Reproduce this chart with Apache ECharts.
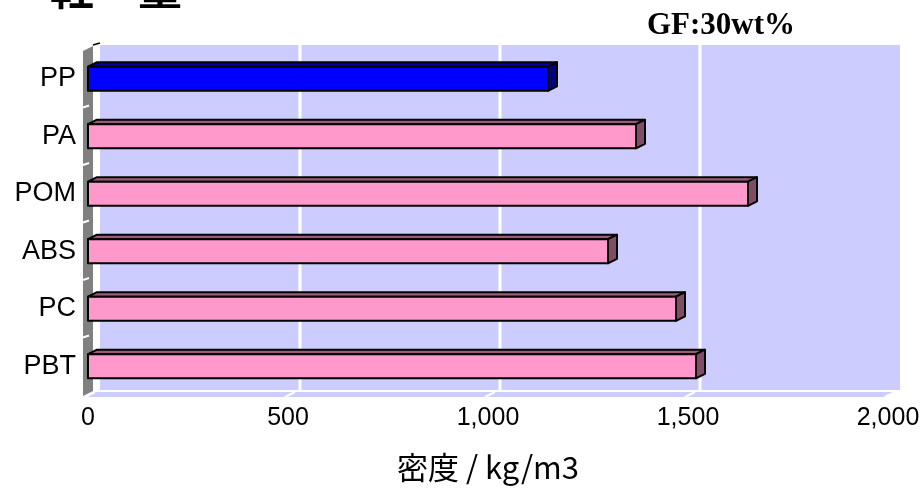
<!DOCTYPE html>
<html>
<head>
<meta charset="utf-8">
<title>密度</title>
<script src="https://cdn.jsdelivr.net/npm/echarts@6/dist/echarts.min.js"></script>
<style>
  html, body { margin: 0; padding: 0; background: #ffffff; }
  #chart { width: 922px; height: 498px; }
</style>
</head>
<body>
<div id="chart"></div>
<script>
// Resin names (top to bottom) and their densities in kg/m3, glass-fibre 30 wt% grades
const categories = ['PP', 'PA', 'POM', 'ABS', 'PC', 'PBT'];
const densities = [1150, 1370, 1650, 1300, 1470, 1520];
// Value axis ticks
const tickValues = [0, 500, 1000, 1500, 2000];
const highlighted = 'PP';

const axisMin = tickValues[0];
const axisMax = tickValues[tickValues.length - 1];
const axisStep = tickValues[1] - tickValues[0];

// Oblique depth offsets for the pseudo-3D look
const WALL_DX = 12, WALL_DY = -5;
const BAR_DX = 9, BAR_DY = -4.5;

const wallColor = '#ccccff';
const faceColors = {
  normal: { front: '#ff99cc', top: '#995c7a', side: '#804d66' },
  highlight: { front: '#0000ff', top: '#000099', side: '#000080' }
};

const chart = echarts.init(document.getElementById('chart'), null, { renderer: 'canvas' });

function fmt(v) {
  return String(v).replace(/\B(?=(\d{3})+(?!\d))/g, ',');
}

// Back wall, left wall and floor of the plot box
function renderWalls(params, api) {
  const cs = params.coordSys;
  const x0 = api.coord([axisMin, 0])[0];
  const x1 = api.coord([axisMax, 0])[0];
  const top = cs.y, bottom = cs.y + cs.height;
  const band = api.size([0, 1])[1];
  const children = [];

  // back wall
  children.push({
    type: 'rect',
    shape: { x: x0 + WALL_DX, y: top + WALL_DY, width: x1 - x0, height: cs.height },
    style: { fill: wallColor }
  });
  // grid lines on the back wall
  tickValues.slice(1, -1).forEach(function (t) {
    const x = api.coord([t, 0])[0] + WALL_DX;
    children.push({
      type: 'line',
      shape: { x1: x, y1: top + WALL_DY, x2: x, y2: bottom + WALL_DY },
      style: { stroke: '#ffffff', lineWidth: 3 }
    });
  });
  // floor
  children.push({
    type: 'polygon',
    shape: { points: [
      [x0 - 5, bottom + 2], [x1 - 4, bottom + 2],
      [x1 + 6, bottom - 3], [x0 + 5, bottom - 3]
    ] },
    style: { fill: wallColor }
  });
  children.push({
    type: 'line',
    shape: { x1: x0 + 5, y1: bottom - 4, x2: x1 + 6, y2: bottom - 4 },
    style: { stroke: '#ffffff', lineWidth: 2 }
  });
  tickValues.forEach(function (t) {
    const x = api.coord([t, 0])[0];
    children.push({
      type: 'line',
      shape: { x1: x - 3, y1: bottom + 2, x2: x + 7, y2: bottom - 3 },
      style: { stroke: '#ffffff', lineWidth: 2 }
    });
  });
  // left wall
  children.push({
    type: 'polygon',
    shape: { points: [
      [x0 - 5, top + 1], [x0 + 5, top - 4],
      [x0 + 5, bottom - 4], [x0 - 5, bottom + 1]
    ] },
    style: { fill: '#808080' }
  });
  children.push({
    type: 'line',
    shape: { x1: x0 + 5, y1: top - 5, x2: x0 + 12, y2: top - 7 },
    style: { stroke: '#000000', lineWidth: 1.5 }
  });
  // tick notches between categories
  for (let i = 1; i < categories.length; i++) {
    const y = top + band * i;
    children.push({
      type: 'line',
      shape: { x1: x0 - 5, y1: y, x2: x0 + 1, y2: y - 2 },
      style: { stroke: '#ffffff', lineWidth: 2 }
    });
  }
  return { type: 'group', children: children };
}

// One pseudo-3D bar: front face, top face and end face
function renderBar(params, api) {
  const idx = api.value(1);
  const start = api.coord([axisMin, idx]);
  const end = api.coord([api.value(0), idx]);
  const h = api.size([0, 1])[1] * 0.42;
  const xL = start[0], xR = end[0];
  const yT = start[1] - h / 2, yB = start[1] + h / 2;
  const c = categories[idx] === highlighted ? faceColors.highlight : faceColors.normal;
  const edge = { stroke: '#000000', lineWidth: 2, lineJoin: 'round' };
  return {
    type: 'group',
    children: [
      {
        type: 'polygon',
        shape: { points: [[xL, yT], [xR, yT], [xR + BAR_DX, yT + BAR_DY], [xL + BAR_DX, yT + BAR_DY]] },
        style: Object.assign({ fill: c.top }, edge)
      },
      {
        type: 'polygon',
        shape: { points: [[xR, yT], [xR + BAR_DX, yT + BAR_DY], [xR + BAR_DX, yB + BAR_DY], [xR, yB]] },
        style: Object.assign({ fill: c.side }, edge)
      },
      {
        type: 'rect',
        shape: { x: xL, y: yT, width: xR - xL, height: yB - yT },
        style: Object.assign({ fill: c.front }, edge)
      }
    ]
  };
}

const option = {
  backgroundColor: '#ffffff',
  animation: false,
  grid: { left: 88, right: 34, top: 50, bottom: 103, containLabel: false, outerBoundsMode: 'none' },
  xAxis: {
    type: 'value',
    min: axisMin,
    max: axisMax,
    interval: axisStep,
    name: '密度 / kg/m3',
    nameLocation: 'middle',
    nameGap: 57,
    nameTextStyle: { fontFamily: 'Noto Sans CJK JP', fontSize: 31, color: '#000000' },
    axisLine: { show: false },
    axisTick: { show: false },
    splitLine: { show: false },
    axisLabel: {
      margin: 11,
      fontFamily: 'Liberation Sans',
      fontSize: 25,
      color: '#000000',
      formatter: function (v) { return fmt(v); }
    }
  },
  yAxis: {
    type: 'category',
    inverse: true,
    data: categories,
    axisLine: { show: false },
    axisTick: { show: false },
    splitLine: { show: false },
    axisLabel: {
      margin: 12,
      fontFamily: 'Liberation Sans',
      fontSize: 27,
      color: '#000000'
    }
  },
  graphic: [
    {
      type: 'text',
      left: 50,
      top: -34,
      style: {
        text: '軽　量',
        font: 'bold 44px "Noto Sans CJK JP"',
        fill: '#000000',
        textShadowColor: '#999999',
        textShadowOffsetX: 3,
        textShadowOffsetY: 3,
        textShadowBlur: 0
      }
    },
    {
      type: 'text',
      left: 647,
      top: 10,
      style: {
        text: 'GF:30wt%',
        font: 'bold 31px "Liberation Serif"',
        fill: '#000000'
      }
    }
  ],
  series: [
    {
      type: 'custom',
      silent: true,
      z: 1,
      renderItem: renderWalls,
      data: [[axisMin, 0]]
    },
    {
      type: 'custom',
      z: 2,
      renderItem: renderBar,
      encode: { x: 0, y: 1 },
      data: densities.map(function (v, i) { return [v, i]; })
    }
  ]
};

chart.setOption(option);
</script>
</body>
</html>
